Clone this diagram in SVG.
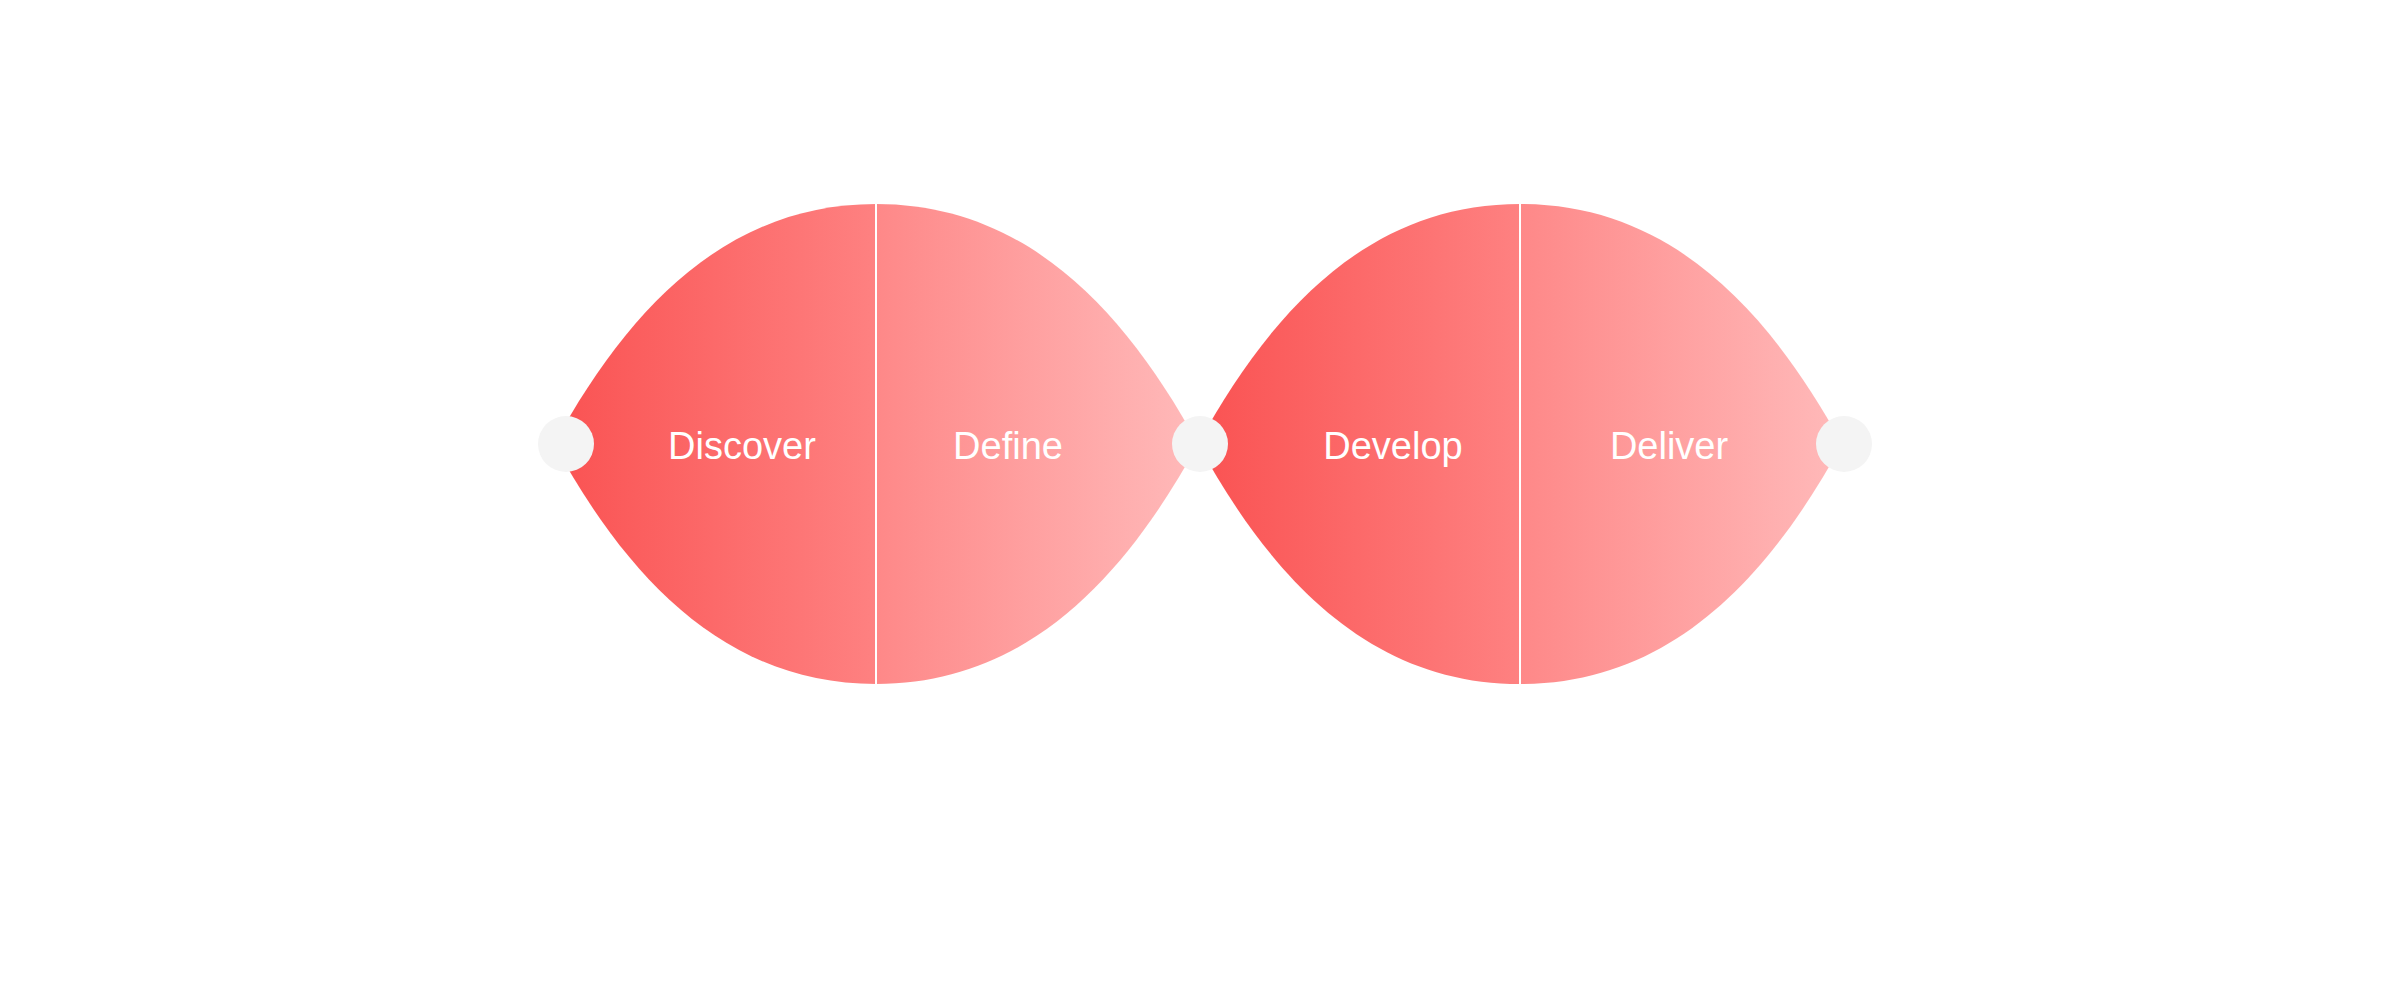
<svg xmlns="http://www.w3.org/2000/svg" width="2400" height="986" viewBox="0 0 2400 986">
  <defs>
    <linearGradient id="gLeft" x1="0" y1="0" x2="1" y2="0">
      <stop offset="0" stop-color="#FA5252"/>
      <stop offset="1" stop-color="#FE8181"/>
    </linearGradient>
    <linearGradient id="gRight" x1="0" y1="0" x2="1" y2="0">
      <stop offset="0" stop-color="#FE8888"/>
      <stop offset="1" stop-color="#FFBABA"/>
    </linearGradient>
    <style>
      .left { fill: url(#gLeft); }
      .right { fill: url(#gRight); }
      .divider { stroke: #FFFFFF; stroke-width: 2; }
      .dot { fill: #F4F4F4; }
      .label { font-family: "Liberation Sans", Arial, Helvetica, sans-serif; font-size: 38px; fill: #FFFFFF; text-anchor: middle; }
    </style>
  </defs>
  <rect width="2400" height="986" fill="#FFFFFF"/>

  <g id="discover">
    <path class="left" d="M 554 444 C 628 309, 726 204, 876 204 L 876 684 C 726 684, 628 579, 554 444 Z"/>
    <text class="label" x="742" y="459">Discover</text>
  </g>
  <g id="define">
    <path class="right" d="M 876 204 C 1026 204, 1124 309, 1198 444 C 1124 579, 1026 684, 876 684 Z"/>
    <text class="label" x="1008" y="459">Define</text>
  </g>
  <g id="develop">
    <path class="left" d="M 1198 444 C 1272 309, 1370 204, 1520 204 L 1520 684 C 1370 684, 1272 579, 1198 444 Z"/>
    <text class="label" x="1393" y="459">Develop</text>
  </g>
  <g id="deliver">
    <path class="right" d="M 1520 204 C 1670 204, 1768 309, 1842 444 C 1768 579, 1670 684, 1520 684 Z"/>
    <text class="label" x="1669" y="459">Deliver</text>
  </g>

  <g id="dividers">
    <line class="divider" x1="876" y1="203" x2="876" y2="685"/>
    <line class="divider" x1="1520" y1="203" x2="1520" y2="685"/>
  </g>

  <g id="start-point"><circle class="dot" cx="566" cy="444" r="28"/></g>
  <g id="mid-point"><circle class="dot" cx="1200" cy="444" r="28"/></g>
  <g id="end-point"><circle class="dot" cx="1844" cy="444" r="28"/></g>
</svg>
